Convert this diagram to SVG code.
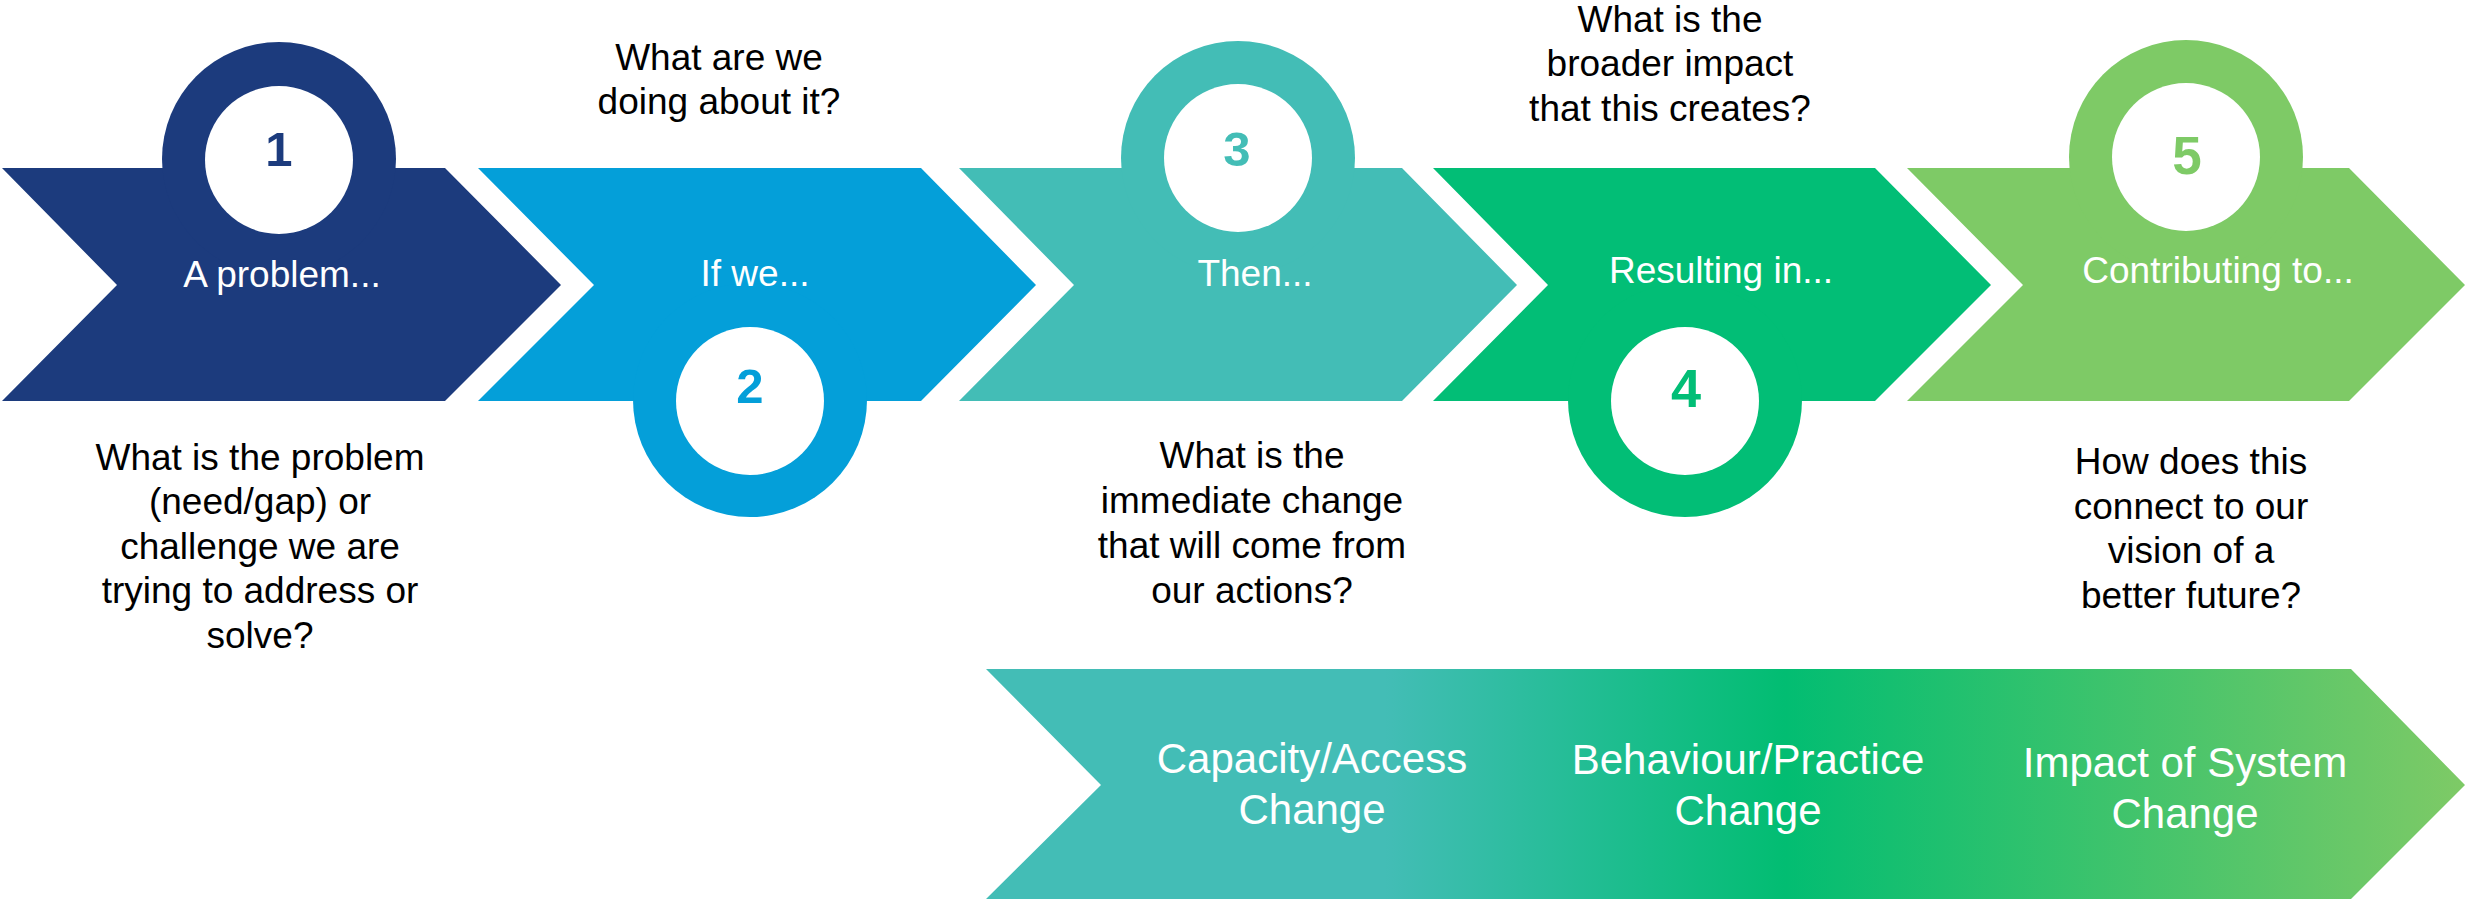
<svg xmlns="http://www.w3.org/2000/svg" width="2466" height="901" viewBox="0 0 2466 901">
<defs>
<linearGradient id="grad" x1="986" y1="0" x2="2465" y2="0" gradientUnits="userSpaceOnUse">
<stop offset="0" stop-color="#43BDB6"/>
<stop offset="0.27" stop-color="#43BDB6"/>
<stop offset="0.54" stop-color="#02BD72"/>
<stop offset="1" stop-color="#7ECA66"/>
</linearGradient>
</defs>
<style>
text{font-family:"Liberation Sans",Arial,sans-serif;text-anchor:middle}
.lbl{fill:#fff;font-size:37px}
.q{fill:#000;font-size:37px}
.num{font-weight:bold;font-size:49px}
.big{fill:#fff;font-size:42px}
.hole{fill:#fff}
</style>
<rect width="2466" height="901" fill="#fff"/>
<g id="step1" fill="#1C3B7D">
<polygon points="2,168 445,168 561,285 445,401 2,401 117,285"/>
<circle cx="279" cy="159" r="117"/>
<circle class="hole" cx="279" cy="160" r="74"/>
<text class="num" x="279" y="166" fill="#1C3B7D">1</text>
<text class="lbl" x="282" y="287">A problem...</text>
</g>
<g id="step2" fill="#049FD9">
<polygon points="478,168 921,168 1036,285 921,401 478,401 594,285"/>
<circle cx="750" cy="400" r="117"/>
<circle class="hole" cx="750" cy="401" r="74"/>
<text class="num" x="750" y="403" fill="#049FD9">2</text>
<text class="lbl" x="755" y="286">If we...</text>
</g>
<g id="step3" fill="#43BDB6">
<polygon points="959,168 1402,168 1517,285 1402,401 959,401 1074,285"/>
<circle cx="1238" cy="158" r="117"/>
<circle class="hole" cx="1238" cy="158" r="74"/>
<text class="num" x="1237" y="166" fill="#43BDB6">3</text>
<text class="lbl" x="1255" y="286">Then...</text>
</g>
<g id="step4" fill="#02BE76">
<polygon points="1433,168 1875,168 1991,285 1875,401 1433,401 1548,285"/>
<circle cx="1685" cy="400" r="117"/>
<circle class="hole" cx="1685" cy="401" r="74"/>
<text class="num" x="1686" y="407" fill="#02BE76" style="font-size:54px">4</text>
<text class="lbl" x="1721" y="283">Resulting in...</text>
</g>
<g id="step5" fill="#7ECA66">
<polygon points="1907,168 2349,168 2465,285 2349,401 1907,401 2023,285"/>
<circle cx="2186" cy="157" r="117"/>
<circle class="hole" cx="2186" cy="157" r="74"/>
<text class="num" x="2187" y="174" fill="#7ECA66" style="font-size:53px">5</text>
<text class="lbl" x="2218" y="283">Contributing to...</text>
</g>
<g id="q1">
<text class="q" x="260" y="470">What is the problem</text>
<text class="q" x="260" y="514">(need/gap) or</text>
<text class="q" x="260" y="559">challenge we are</text>
<text class="q" x="260" y="603">trying to address or</text>
<text class="q" x="260" y="648">solve?</text>
</g>
<g id="q2">
<text class="q" x="719" y="70">What are we</text>
<text class="q" x="719" y="114">doing about it?</text>
</g>
<g id="q3">
<text class="q" x="1252" y="468">What is the</text>
<text class="q" x="1252" y="513">immediate change</text>
<text class="q" x="1252" y="558">that will come from</text>
<text class="q" x="1252" y="603">our actions?</text>
</g>
<g id="q4">
<text class="q" x="1670" y="32">What is the</text>
<text class="q" x="1670" y="76">broader impact</text>
<text class="q" x="1670" y="121">that this creates?</text>
</g>
<g id="q5">
<text class="q" x="2191" y="474">How does this</text>
<text class="q" x="2191" y="519">connect to our</text>
<text class="q" x="2191" y="563">vision of a</text>
<text class="q" x="2191" y="608">better future?</text>
</g>
<g id="changes">
<polygon points="986,669 2351,669 2465,785 2351,899 986,899 1101,785" fill="url(#grad)"/>
<text class="big" x="1312" y="773">Capacity/Access</text>
<text class="big" x="1312" y="824">Change</text>
<text class="big" x="1748" y="774">Behaviour/Practice</text>
<text class="big" x="1748" y="825">Change</text>
<text class="big" x="2185" y="777">Impact of System</text>
<text class="big" x="2185" y="828">Change</text>
</g>
</svg>
